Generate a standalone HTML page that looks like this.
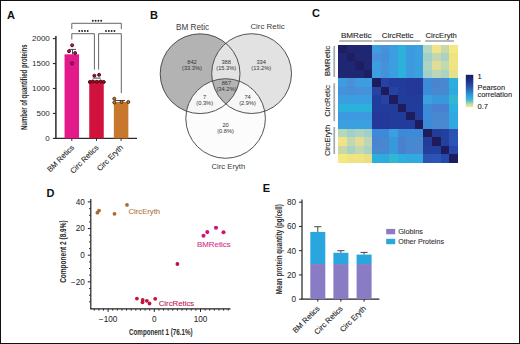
<!DOCTYPE html>
<html><head><meta charset="utf-8"><style>
html,body{margin:0;padding:0;background:#fff;}
body{width:520px;height:344px;overflow:hidden;}
svg{display:block;}
</style></head><body>
<svg width="520" height="344" viewBox="0 0 520 344" font-family='"Liberation Sans", sans-serif'>
<rect x="0" y="0" width="520" height="344" fill="#fff"/>
<line x1="55.9" y1="36" x2="55.9" y2="138.4" stroke="#2a2a2a" stroke-width="1.5"/>
<line x1="55.199999999999996" y1="138.4" x2="137" y2="138.4" stroke="#2a2a2a" stroke-width="1.4"/>
<line x1="52.9" y1="138.4" x2="55.9" y2="138.4" stroke="#2a2a2a" stroke-width="1.1"/>
<text x="49.8" y="140.9" text-anchor="end" font-size="8" fill="#2a2a2a" stroke="none">0</text>
<line x1="52.9" y1="113.45" x2="55.9" y2="113.45" stroke="#2a2a2a" stroke-width="1.1"/>
<text x="49.8" y="115.95" text-anchor="end" font-size="8" fill="#2a2a2a" stroke="none">500</text>
<line x1="52.9" y1="88.5" x2="55.9" y2="88.5" stroke="#2a2a2a" stroke-width="1.1"/>
<text x="49.8" y="91.0" text-anchor="end" font-size="8" fill="#2a2a2a" stroke="none">1000</text>
<line x1="52.9" y1="63.55" x2="55.9" y2="63.55" stroke="#2a2a2a" stroke-width="1.1"/>
<text x="49.8" y="66.05" text-anchor="end" font-size="8" fill="#2a2a2a" stroke="none">1500</text>
<line x1="52.9" y1="38.599999999999994" x2="55.9" y2="38.599999999999994" stroke="#2a2a2a" stroke-width="1.1"/>
<text x="49.8" y="41.099999999999994" text-anchor="end" font-size="8" fill="#2a2a2a" stroke="none">2000</text>
<rect x="64.55" y="54.3" width="14.5" height="84.10000000000001" fill="#e21a8a"/>
<line x1="71.8" y1="138.4" x2="71.8" y2="140.9" stroke="#2a2a2a" stroke-width="1"/>
<rect x="89.25" y="80.4" width="14.5" height="58.0" fill="#d0123c"/>
<line x1="96.5" y1="138.4" x2="96.5" y2="140.9" stroke="#2a2a2a" stroke-width="1"/>
<rect x="113.85" y="102" width="14.5" height="36.400000000000006" fill="#c8782c"/>
<line x1="121.1" y1="138.4" x2="121.1" y2="140.9" stroke="#2a2a2a" stroke-width="1"/>
<line x1="72.5" y1="49.4" x2="72.5" y2="54.3" stroke="#333" stroke-width="0.9"/>
<line x1="69" y1="49.4" x2="76" y2="49.4" stroke="#333" stroke-width="0.9"/>
<circle cx="72.1" cy="45.3" r="1.5" fill="#b81868" stroke="#500828" stroke-width="0.95"/>
<circle cx="69.0" cy="51.2" r="1.5" fill="#b81868" stroke="#500828" stroke-width="0.95"/>
<circle cx="75.1" cy="53.0" r="1.5" fill="#b81868" stroke="#500828" stroke-width="0.95"/>
<circle cx="72.1" cy="63.4" r="1.5" fill="#b81868" stroke="#500828" stroke-width="0.95"/>
<line x1="92.8" y1="78.1" x2="100.7" y2="78.1" stroke="#333" stroke-width="0.9"/>
<circle cx="94.4" cy="75.7" r="1.5" fill="#a0102a" stroke="#480812" stroke-width="0.95"/>
<circle cx="99.1" cy="74.8" r="1.5" fill="#a0102a" stroke="#480812" stroke-width="0.95"/>
<circle cx="89.8" cy="82" r="1.5" fill="#a0102a" stroke="#480812" stroke-width="0.95"/>
<circle cx="92.8" cy="81.5" r="1.5" fill="#a0102a" stroke="#480812" stroke-width="0.95"/>
<circle cx="96.8" cy="81.8" r="1.5" fill="#a0102a" stroke="#480812" stroke-width="0.95"/>
<circle cx="100.7" cy="81.5" r="1.5" fill="#a0102a" stroke="#480812" stroke-width="0.95"/>
<circle cx="103.8" cy="82" r="1.5" fill="#a0102a" stroke="#480812" stroke-width="0.95"/>
<line x1="115.2" y1="100.5" x2="125" y2="100.5" stroke="#333" stroke-width="0.9"/>
<circle cx="114.3" cy="98.7" r="1.5" fill="#c07a38" stroke="#4a2c10" stroke-width="0.95"/>
<circle cx="114.3" cy="102.5" r="1.5" fill="#c07a38" stroke="#4a2c10" stroke-width="0.95"/>
<circle cx="121.6" cy="102" r="1.5" fill="#c07a38" stroke="#4a2c10" stroke-width="0.95"/>
<circle cx="128.3" cy="102" r="1.5" fill="#c07a38" stroke="#4a2c10" stroke-width="0.95"/>
<path d="M71.8 29 V23.3 H121.3 V29" fill="none" stroke="#555" stroke-width="0.9"/>
<path d="M71.8 39.5 V33.7 H94.4 V69.6" fill="none" stroke="#555" stroke-width="0.9"/>
<path d="M98.6 69.6 V33.7 H121.3 V93.1" fill="none" stroke="#555" stroke-width="0.9"/>
<circle cx="92.8" cy="20.8" r="0.95" fill="#222"/>
<circle cx="95.6" cy="20.8" r="0.95" fill="#222"/>
<circle cx="98.39999999999999" cy="20.8" r="0.95" fill="#222"/>
<circle cx="101.19999999999999" cy="20.8" r="0.95" fill="#222"/>
<circle cx="79.3" cy="31.000000000000004" r="0.95" fill="#222"/>
<circle cx="82.1" cy="31.000000000000004" r="0.95" fill="#222"/>
<circle cx="84.89999999999999" cy="31.000000000000004" r="0.95" fill="#222"/>
<circle cx="87.69999999999999" cy="31.000000000000004" r="0.95" fill="#222"/>
<circle cx="106.0" cy="31.000000000000004" r="0.95" fill="#222"/>
<circle cx="108.8" cy="31.000000000000004" r="0.95" fill="#222"/>
<circle cx="111.6" cy="31.000000000000004" r="0.95" fill="#222"/>
<circle cx="114.4" cy="31.000000000000004" r="0.95" fill="#222"/>
<text transform="translate(74.60000000000001,148.0) rotate(-45)" text-anchor="end" font-size="7.6" fill="#2a2a2a" stroke="#2a2a2a" stroke-width="0.1">BM Retics</text>
<text transform="translate(99.10000000000001,148.0) rotate(-45)" text-anchor="end" font-size="7.6" fill="#2a2a2a" stroke="#2a2a2a" stroke-width="0.1">Circ Retics</text>
<text transform="translate(123.5,148.0) rotate(-45)" text-anchor="end" font-size="7.6" fill="#2a2a2a" stroke="#2a2a2a" stroke-width="0.1">Circ Eryth</text>
<text transform="translate(26.6,87.25) rotate(-90)" text-anchor="middle" font-size="9" font-weight="bold" textLength="85.7" lengthAdjust="spacingAndGlyphs" fill="#2a2a2a">Number of quantified proteins</text>
<text x="7" y="18.8" font-size="11" font-weight="bold" fill="#111">A</text>
<defs>
<clipPath id="k1"><circle cx="200.1" cy="73.7" r="39.9" /></clipPath>
<clipPath id="k2"><circle cx="251.6" cy="73.6" r="39.9" /></clipPath>
</defs>
<circle cx="200.1" cy="73.7" r="39.9" fill="#b3b3b3"/>
<circle cx="251.6" cy="73.6" r="39.9" fill="#e2e2e2"/>
<g clip-path="url(#k1)"><circle cx="251.6" cy="73.6" r="39.9" fill="#e3e3e3"/></g>
<circle cx="225.6" cy="118.5" r="39.8" fill="#fcfcfc"/>
<g clip-path="url(#k1)"><circle cx="225.6" cy="118.5" r="39.8" fill="#f7f7f7"/></g>
<g clip-path="url(#k2)"><circle cx="225.6" cy="118.5" r="39.8" fill="#f7f7f7"/></g>
<g clip-path="url(#k1)"><g clip-path="url(#k2)"><circle cx="225.6" cy="118.5" r="39.8" fill="#b4b4b4"/></g></g>
<circle cx="200.1" cy="73.7" r="39.9" fill="none" stroke="#404040" stroke-width="0.9"/>
<circle cx="251.6" cy="73.6" r="39.9" fill="none" stroke="#404040" stroke-width="0.9"/>
<circle cx="225.6" cy="118.5" r="39.8" fill="none" stroke="#404040" stroke-width="0.9"/>
<text x="192" y="63.5" text-anchor="middle" font-size="5.7" fill="#333" stroke="none">842</text>
<text x="192" y="69.8" text-anchor="middle" font-size="5.7" fill="#333" stroke="none">(33.3%)</text>
<text x="226.2" y="63.5" text-anchor="middle" font-size="5.7" fill="#333" stroke="none">388</text>
<text x="226.2" y="69.8" text-anchor="middle" font-size="5.7" fill="#333" stroke="none">(15.3%)</text>
<text x="261.2" y="63.5" text-anchor="middle" font-size="5.7" fill="#333" stroke="none">334</text>
<text x="261.2" y="69.8" text-anchor="middle" font-size="5.7" fill="#333" stroke="none">(13.2%)</text>
<text x="226.4" y="85" text-anchor="middle" font-size="5.7" fill="#333" stroke="none">867</text>
<text x="226.4" y="91.3" text-anchor="middle" font-size="5.7" fill="#333" stroke="none">(34.2%)</text>
<text x="204.7" y="98.9" text-anchor="middle" font-size="5.7" fill="#333" stroke="none">7</text>
<text x="204.7" y="105.2" text-anchor="middle" font-size="5.7" fill="#333" stroke="none">(0.3%)</text>
<text x="247.6" y="98.9" text-anchor="middle" font-size="5.7" fill="#333" stroke="none">74</text>
<text x="247.6" y="105.2" text-anchor="middle" font-size="5.7" fill="#333" stroke="none">(2.9%)</text>
<text x="225.6" y="126.6" text-anchor="middle" font-size="5.7" fill="#333" stroke="none">20</text>
<text x="225.6" y="132.9" text-anchor="middle" font-size="5.7" fill="#333" stroke="none">(0.8%)</text>
<text x="192.6" y="30" text-anchor="middle" font-size="8.2" fill="#3a3a3a" stroke="none">BM Retic</text>
<text x="267.5" y="29.4" text-anchor="middle" font-size="7.9" fill="#3a3a3a" stroke="none">Circ Retic</text>
<text x="228.4" y="169" text-anchor="middle" font-size="7.7" fill="#3a3a3a" stroke="none">Circ Eryth</text>
<text x="150" y="18.8" font-size="11" font-weight="bold" fill="#111">B</text>
<rect x="338.00" y="44.60" width="9.04" height="8.91" fill="#1e1e62" shape-rendering="crispEdges"/>
<rect x="346.54" y="44.60" width="9.04" height="8.91" fill="#1f2672" shape-rendering="crispEdges"/>
<rect x="355.09" y="44.60" width="9.04" height="8.91" fill="#1f2672" shape-rendering="crispEdges"/>
<rect x="363.63" y="44.60" width="9.04" height="8.91" fill="#1f2672" shape-rendering="crispEdges"/>
<rect x="372.17" y="44.60" width="9.04" height="8.91" fill="#3e9ce0" shape-rendering="crispEdges"/>
<rect x="380.71" y="44.60" width="9.04" height="8.91" fill="#4292dc" shape-rendering="crispEdges"/>
<rect x="389.26" y="44.60" width="9.04" height="8.91" fill="#3a9ee0" shape-rendering="crispEdges"/>
<rect x="397.80" y="44.60" width="9.04" height="8.91" fill="#2cb2da" shape-rendering="crispEdges"/>
<rect x="406.34" y="44.60" width="9.04" height="8.91" fill="#3e9ae0" shape-rendering="crispEdges"/>
<rect x="414.89" y="44.60" width="9.04" height="8.91" fill="#3aa0e0" shape-rendering="crispEdges"/>
<rect x="423.43" y="44.60" width="9.04" height="8.91" fill="#b4d8bc" shape-rendering="crispEdges"/>
<rect x="431.97" y="44.60" width="9.04" height="8.91" fill="#f0e48a" shape-rendering="crispEdges"/>
<rect x="440.51" y="44.60" width="9.04" height="8.91" fill="#cad8a8" shape-rendering="crispEdges"/>
<rect x="449.06" y="44.60" width="9.04" height="8.91" fill="#f4e880" shape-rendering="crispEdges"/>
<rect x="338.00" y="53.01" width="9.04" height="8.91" fill="#1f2672" shape-rendering="crispEdges"/>
<rect x="346.54" y="53.01" width="9.04" height="8.91" fill="#1e1f62" shape-rendering="crispEdges"/>
<rect x="355.09" y="53.01" width="9.04" height="8.91" fill="#1f2672" shape-rendering="crispEdges"/>
<rect x="363.63" y="53.01" width="9.04" height="8.91" fill="#1f2672" shape-rendering="crispEdges"/>
<rect x="372.17" y="53.01" width="9.04" height="8.91" fill="#4890d8" shape-rendering="crispEdges"/>
<rect x="380.71" y="53.01" width="9.04" height="8.91" fill="#468ed8" shape-rendering="crispEdges"/>
<rect x="389.26" y="53.01" width="9.04" height="8.91" fill="#3a9ee0" shape-rendering="crispEdges"/>
<rect x="397.80" y="53.01" width="9.04" height="8.91" fill="#2cb2da" shape-rendering="crispEdges"/>
<rect x="406.34" y="53.01" width="9.04" height="8.91" fill="#3e9ae0" shape-rendering="crispEdges"/>
<rect x="414.89" y="53.01" width="9.04" height="8.91" fill="#3aa0e0" shape-rendering="crispEdges"/>
<rect x="423.43" y="53.01" width="9.04" height="8.91" fill="#a2d0c8" shape-rendering="crispEdges"/>
<rect x="431.97" y="53.01" width="9.04" height="8.91" fill="#c2d8b0" shape-rendering="crispEdges"/>
<rect x="440.51" y="53.01" width="9.04" height="8.91" fill="#aad4c0" shape-rendering="crispEdges"/>
<rect x="449.06" y="53.01" width="9.04" height="8.91" fill="#f0e480" shape-rendering="crispEdges"/>
<rect x="338.00" y="61.43" width="9.04" height="8.91" fill="#1f2672" shape-rendering="crispEdges"/>
<rect x="346.54" y="61.43" width="9.04" height="8.91" fill="#1f2672" shape-rendering="crispEdges"/>
<rect x="355.09" y="61.43" width="9.04" height="8.91" fill="#1e1f62" shape-rendering="crispEdges"/>
<rect x="363.63" y="61.43" width="9.04" height="8.91" fill="#1f2672" shape-rendering="crispEdges"/>
<rect x="372.17" y="61.43" width="9.04" height="8.91" fill="#3e9ce0" shape-rendering="crispEdges"/>
<rect x="380.71" y="61.43" width="9.04" height="8.91" fill="#4890d8" shape-rendering="crispEdges"/>
<rect x="389.26" y="61.43" width="9.04" height="8.91" fill="#3a9ee0" shape-rendering="crispEdges"/>
<rect x="397.80" y="61.43" width="9.04" height="8.91" fill="#2cb2da" shape-rendering="crispEdges"/>
<rect x="406.34" y="61.43" width="9.04" height="8.91" fill="#3e9ae0" shape-rendering="crispEdges"/>
<rect x="414.89" y="61.43" width="9.04" height="8.91" fill="#3aa0e0" shape-rendering="crispEdges"/>
<rect x="423.43" y="61.43" width="9.04" height="8.91" fill="#acd4c0" shape-rendering="crispEdges"/>
<rect x="431.97" y="61.43" width="9.04" height="8.91" fill="#e2dc98" shape-rendering="crispEdges"/>
<rect x="440.51" y="61.43" width="9.04" height="8.91" fill="#c2d8b0" shape-rendering="crispEdges"/>
<rect x="449.06" y="61.43" width="9.04" height="8.91" fill="#f0e480" shape-rendering="crispEdges"/>
<rect x="338.00" y="69.84" width="9.04" height="8.91" fill="#1f2672" shape-rendering="crispEdges"/>
<rect x="346.54" y="69.84" width="9.04" height="8.91" fill="#1f2672" shape-rendering="crispEdges"/>
<rect x="355.09" y="69.84" width="9.04" height="8.91" fill="#1f2672" shape-rendering="crispEdges"/>
<rect x="363.63" y="69.84" width="9.04" height="8.91" fill="#1e1f62" shape-rendering="crispEdges"/>
<rect x="372.17" y="69.84" width="9.04" height="8.91" fill="#3e9ce0" shape-rendering="crispEdges"/>
<rect x="380.71" y="69.84" width="9.04" height="8.91" fill="#4292dc" shape-rendering="crispEdges"/>
<rect x="389.26" y="69.84" width="9.04" height="8.91" fill="#3a9ee0" shape-rendering="crispEdges"/>
<rect x="397.80" y="69.84" width="9.04" height="8.91" fill="#2cb2da" shape-rendering="crispEdges"/>
<rect x="406.34" y="69.84" width="9.04" height="8.91" fill="#3e9ae0" shape-rendering="crispEdges"/>
<rect x="414.89" y="69.84" width="9.04" height="8.91" fill="#3aa0e0" shape-rendering="crispEdges"/>
<rect x="423.43" y="69.84" width="9.04" height="8.91" fill="#a2d0c8" shape-rendering="crispEdges"/>
<rect x="431.97" y="69.84" width="9.04" height="8.91" fill="#bad8b8" shape-rendering="crispEdges"/>
<rect x="440.51" y="69.84" width="9.04" height="8.91" fill="#aad4c0" shape-rendering="crispEdges"/>
<rect x="449.06" y="69.84" width="9.04" height="8.91" fill="#e8e088" shape-rendering="crispEdges"/>
<rect x="338.00" y="78.26" width="9.04" height="8.91" fill="#3e9ce0" shape-rendering="crispEdges"/>
<rect x="346.54" y="78.26" width="9.04" height="8.91" fill="#4890d8" shape-rendering="crispEdges"/>
<rect x="355.09" y="78.26" width="9.04" height="8.91" fill="#3e9ce0" shape-rendering="crispEdges"/>
<rect x="363.63" y="78.26" width="9.04" height="8.91" fill="#3e9ce0" shape-rendering="crispEdges"/>
<rect x="372.17" y="78.26" width="9.04" height="8.91" fill="#1f1c5e" shape-rendering="crispEdges"/>
<rect x="380.71" y="78.26" width="9.04" height="8.91" fill="#2542a4" shape-rendering="crispEdges"/>
<rect x="389.26" y="78.26" width="9.04" height="8.91" fill="#223c9c" shape-rendering="crispEdges"/>
<rect x="397.80" y="78.26" width="9.04" height="8.91" fill="#223c9c" shape-rendering="crispEdges"/>
<rect x="406.34" y="78.26" width="9.04" height="8.91" fill="#24389a" shape-rendering="crispEdges"/>
<rect x="414.89" y="78.26" width="9.04" height="8.91" fill="#24389a" shape-rendering="crispEdges"/>
<rect x="423.43" y="78.26" width="9.04" height="8.91" fill="#3c8ad8" shape-rendering="crispEdges"/>
<rect x="431.97" y="78.26" width="9.04" height="8.91" fill="#4a84d0" shape-rendering="crispEdges"/>
<rect x="440.51" y="78.26" width="9.04" height="8.91" fill="#4888d0" shape-rendering="crispEdges"/>
<rect x="449.06" y="78.26" width="9.04" height="8.91" fill="#2ab0e0" shape-rendering="crispEdges"/>
<rect x="338.00" y="86.67" width="9.04" height="8.91" fill="#4292dc" shape-rendering="crispEdges"/>
<rect x="346.54" y="86.67" width="9.04" height="8.91" fill="#468ed8" shape-rendering="crispEdges"/>
<rect x="355.09" y="86.67" width="9.04" height="8.91" fill="#4890d8" shape-rendering="crispEdges"/>
<rect x="363.63" y="86.67" width="9.04" height="8.91" fill="#4292dc" shape-rendering="crispEdges"/>
<rect x="372.17" y="86.67" width="9.04" height="8.91" fill="#2542a4" shape-rendering="crispEdges"/>
<rect x="380.71" y="86.67" width="9.04" height="8.91" fill="#1f1c5e" shape-rendering="crispEdges"/>
<rect x="389.26" y="86.67" width="9.04" height="8.91" fill="#2542a4" shape-rendering="crispEdges"/>
<rect x="397.80" y="86.67" width="9.04" height="8.91" fill="#223c9c" shape-rendering="crispEdges"/>
<rect x="406.34" y="86.67" width="9.04" height="8.91" fill="#24389a" shape-rendering="crispEdges"/>
<rect x="414.89" y="86.67" width="9.04" height="8.91" fill="#24389a" shape-rendering="crispEdges"/>
<rect x="423.43" y="86.67" width="9.04" height="8.91" fill="#3c8ad8" shape-rendering="crispEdges"/>
<rect x="431.97" y="86.67" width="9.04" height="8.91" fill="#4888d0" shape-rendering="crispEdges"/>
<rect x="440.51" y="86.67" width="9.04" height="8.91" fill="#4888d0" shape-rendering="crispEdges"/>
<rect x="449.06" y="86.67" width="9.04" height="8.91" fill="#30a8e0" shape-rendering="crispEdges"/>
<rect x="338.00" y="95.09" width="9.04" height="8.91" fill="#3a9ee0" shape-rendering="crispEdges"/>
<rect x="346.54" y="95.09" width="9.04" height="8.91" fill="#3a9ee0" shape-rendering="crispEdges"/>
<rect x="355.09" y="95.09" width="9.04" height="8.91" fill="#3a9ee0" shape-rendering="crispEdges"/>
<rect x="363.63" y="95.09" width="9.04" height="8.91" fill="#3a9ee0" shape-rendering="crispEdges"/>
<rect x="372.17" y="95.09" width="9.04" height="8.91" fill="#223c9c" shape-rendering="crispEdges"/>
<rect x="380.71" y="95.09" width="9.04" height="8.91" fill="#2542a4" shape-rendering="crispEdges"/>
<rect x="389.26" y="95.09" width="9.04" height="8.91" fill="#1f1c5e" shape-rendering="crispEdges"/>
<rect x="397.80" y="95.09" width="9.04" height="8.91" fill="#223c9c" shape-rendering="crispEdges"/>
<rect x="406.34" y="95.09" width="9.04" height="8.91" fill="#223c9c" shape-rendering="crispEdges"/>
<rect x="414.89" y="95.09" width="9.04" height="8.91" fill="#223c9c" shape-rendering="crispEdges"/>
<rect x="423.43" y="95.09" width="9.04" height="8.91" fill="#3aa0e0" shape-rendering="crispEdges"/>
<rect x="431.97" y="95.09" width="9.04" height="8.91" fill="#3898dc" shape-rendering="crispEdges"/>
<rect x="440.51" y="95.09" width="9.04" height="8.91" fill="#3898dc" shape-rendering="crispEdges"/>
<rect x="449.06" y="95.09" width="9.04" height="8.91" fill="#30b8d0" shape-rendering="crispEdges"/>
<rect x="338.00" y="103.50" width="9.04" height="8.91" fill="#2cb2da" shape-rendering="crispEdges"/>
<rect x="346.54" y="103.50" width="9.04" height="8.91" fill="#2cb2da" shape-rendering="crispEdges"/>
<rect x="355.09" y="103.50" width="9.04" height="8.91" fill="#2cb2da" shape-rendering="crispEdges"/>
<rect x="363.63" y="103.50" width="9.04" height="8.91" fill="#2cb2da" shape-rendering="crispEdges"/>
<rect x="372.17" y="103.50" width="9.04" height="8.91" fill="#223c9c" shape-rendering="crispEdges"/>
<rect x="380.71" y="103.50" width="9.04" height="8.91" fill="#223c9c" shape-rendering="crispEdges"/>
<rect x="389.26" y="103.50" width="9.04" height="8.91" fill="#223c9c" shape-rendering="crispEdges"/>
<rect x="397.80" y="103.50" width="9.04" height="8.91" fill="#1f1c5e" shape-rendering="crispEdges"/>
<rect x="406.34" y="103.50" width="9.04" height="8.91" fill="#223c9c" shape-rendering="crispEdges"/>
<rect x="414.89" y="103.50" width="9.04" height="8.91" fill="#223c9c" shape-rendering="crispEdges"/>
<rect x="423.43" y="103.50" width="9.04" height="8.91" fill="#3c8ad8" shape-rendering="crispEdges"/>
<rect x="431.97" y="103.50" width="9.04" height="8.91" fill="#4a80d0" shape-rendering="crispEdges"/>
<rect x="440.51" y="103.50" width="9.04" height="8.91" fill="#4a80d0" shape-rendering="crispEdges"/>
<rect x="449.06" y="103.50" width="9.04" height="8.91" fill="#2ab0e0" shape-rendering="crispEdges"/>
<rect x="338.00" y="111.91" width="9.04" height="8.91" fill="#3e9ae0" shape-rendering="crispEdges"/>
<rect x="346.54" y="111.91" width="9.04" height="8.91" fill="#3e9ae0" shape-rendering="crispEdges"/>
<rect x="355.09" y="111.91" width="9.04" height="8.91" fill="#3e9ae0" shape-rendering="crispEdges"/>
<rect x="363.63" y="111.91" width="9.04" height="8.91" fill="#3e9ae0" shape-rendering="crispEdges"/>
<rect x="372.17" y="111.91" width="9.04" height="8.91" fill="#24389a" shape-rendering="crispEdges"/>
<rect x="380.71" y="111.91" width="9.04" height="8.91" fill="#24389a" shape-rendering="crispEdges"/>
<rect x="389.26" y="111.91" width="9.04" height="8.91" fill="#223c9c" shape-rendering="crispEdges"/>
<rect x="397.80" y="111.91" width="9.04" height="8.91" fill="#223c9c" shape-rendering="crispEdges"/>
<rect x="406.34" y="111.91" width="9.04" height="8.91" fill="#1f1c5e" shape-rendering="crispEdges"/>
<rect x="414.89" y="111.91" width="9.04" height="8.91" fill="#223c9c" shape-rendering="crispEdges"/>
<rect x="423.43" y="111.91" width="9.04" height="8.91" fill="#3c8ad8" shape-rendering="crispEdges"/>
<rect x="431.97" y="111.91" width="9.04" height="8.91" fill="#4888d0" shape-rendering="crispEdges"/>
<rect x="440.51" y="111.91" width="9.04" height="8.91" fill="#4888d0" shape-rendering="crispEdges"/>
<rect x="449.06" y="111.91" width="9.04" height="8.91" fill="#30a8e0" shape-rendering="crispEdges"/>
<rect x="338.00" y="120.33" width="9.04" height="8.91" fill="#3aa0e0" shape-rendering="crispEdges"/>
<rect x="346.54" y="120.33" width="9.04" height="8.91" fill="#3aa0e0" shape-rendering="crispEdges"/>
<rect x="355.09" y="120.33" width="9.04" height="8.91" fill="#3aa0e0" shape-rendering="crispEdges"/>
<rect x="363.63" y="120.33" width="9.04" height="8.91" fill="#3aa0e0" shape-rendering="crispEdges"/>
<rect x="372.17" y="120.33" width="9.04" height="8.91" fill="#24389a" shape-rendering="crispEdges"/>
<rect x="380.71" y="120.33" width="9.04" height="8.91" fill="#24389a" shape-rendering="crispEdges"/>
<rect x="389.26" y="120.33" width="9.04" height="8.91" fill="#223c9c" shape-rendering="crispEdges"/>
<rect x="397.80" y="120.33" width="9.04" height="8.91" fill="#223c9c" shape-rendering="crispEdges"/>
<rect x="406.34" y="120.33" width="9.04" height="8.91" fill="#223c9c" shape-rendering="crispEdges"/>
<rect x="414.89" y="120.33" width="9.04" height="8.91" fill="#1f1c5e" shape-rendering="crispEdges"/>
<rect x="423.43" y="120.33" width="9.04" height="8.91" fill="#3c8ad8" shape-rendering="crispEdges"/>
<rect x="431.97" y="120.33" width="9.04" height="8.91" fill="#4a88d0" shape-rendering="crispEdges"/>
<rect x="440.51" y="120.33" width="9.04" height="8.91" fill="#4a88d0" shape-rendering="crispEdges"/>
<rect x="449.06" y="120.33" width="9.04" height="8.91" fill="#30a8e0" shape-rendering="crispEdges"/>
<rect x="338.00" y="128.74" width="9.04" height="8.91" fill="#b4d8bc" shape-rendering="crispEdges"/>
<rect x="346.54" y="128.74" width="9.04" height="8.91" fill="#a2d0c8" shape-rendering="crispEdges"/>
<rect x="355.09" y="128.74" width="9.04" height="8.91" fill="#acd4c0" shape-rendering="crispEdges"/>
<rect x="363.63" y="128.74" width="9.04" height="8.91" fill="#a2d0c8" shape-rendering="crispEdges"/>
<rect x="372.17" y="128.74" width="9.04" height="8.91" fill="#3c8ad8" shape-rendering="crispEdges"/>
<rect x="380.71" y="128.74" width="9.04" height="8.91" fill="#3c8ad8" shape-rendering="crispEdges"/>
<rect x="389.26" y="128.74" width="9.04" height="8.91" fill="#3aa0e0" shape-rendering="crispEdges"/>
<rect x="397.80" y="128.74" width="9.04" height="8.91" fill="#3c8ad8" shape-rendering="crispEdges"/>
<rect x="406.34" y="128.74" width="9.04" height="8.91" fill="#3c8ad8" shape-rendering="crispEdges"/>
<rect x="414.89" y="128.74" width="9.04" height="8.91" fill="#3c8ad8" shape-rendering="crispEdges"/>
<rect x="423.43" y="128.74" width="9.04" height="8.91" fill="#1f1c5e" shape-rendering="crispEdges"/>
<rect x="431.97" y="128.74" width="9.04" height="8.91" fill="#233c9a" shape-rendering="crispEdges"/>
<rect x="440.51" y="128.74" width="9.04" height="8.91" fill="#22409e" shape-rendering="crispEdges"/>
<rect x="449.06" y="128.74" width="9.04" height="8.91" fill="#2c52b4" shape-rendering="crispEdges"/>
<rect x="338.00" y="137.16" width="9.04" height="8.91" fill="#f0e48a" shape-rendering="crispEdges"/>
<rect x="346.54" y="137.16" width="9.04" height="8.91" fill="#c2d8b0" shape-rendering="crispEdges"/>
<rect x="355.09" y="137.16" width="9.04" height="8.91" fill="#e2dc98" shape-rendering="crispEdges"/>
<rect x="363.63" y="137.16" width="9.04" height="8.91" fill="#bad8b8" shape-rendering="crispEdges"/>
<rect x="372.17" y="137.16" width="9.04" height="8.91" fill="#4a84d0" shape-rendering="crispEdges"/>
<rect x="380.71" y="137.16" width="9.04" height="8.91" fill="#4888d0" shape-rendering="crispEdges"/>
<rect x="389.26" y="137.16" width="9.04" height="8.91" fill="#3898dc" shape-rendering="crispEdges"/>
<rect x="397.80" y="137.16" width="9.04" height="8.91" fill="#4a80d0" shape-rendering="crispEdges"/>
<rect x="406.34" y="137.16" width="9.04" height="8.91" fill="#4888d0" shape-rendering="crispEdges"/>
<rect x="414.89" y="137.16" width="9.04" height="8.91" fill="#4a88d0" shape-rendering="crispEdges"/>
<rect x="423.43" y="137.16" width="9.04" height="8.91" fill="#233c9a" shape-rendering="crispEdges"/>
<rect x="431.97" y="137.16" width="9.04" height="8.91" fill="#1f1c5e" shape-rendering="crispEdges"/>
<rect x="440.51" y="137.16" width="9.04" height="8.91" fill="#22409e" shape-rendering="crispEdges"/>
<rect x="449.06" y="137.16" width="9.04" height="8.91" fill="#2c54b6" shape-rendering="crispEdges"/>
<rect x="338.00" y="145.57" width="9.04" height="8.91" fill="#cad8a8" shape-rendering="crispEdges"/>
<rect x="346.54" y="145.57" width="9.04" height="8.91" fill="#aad4c0" shape-rendering="crispEdges"/>
<rect x="355.09" y="145.57" width="9.04" height="8.91" fill="#c2d8b0" shape-rendering="crispEdges"/>
<rect x="363.63" y="145.57" width="9.04" height="8.91" fill="#aad4c0" shape-rendering="crispEdges"/>
<rect x="372.17" y="145.57" width="9.04" height="8.91" fill="#4888d0" shape-rendering="crispEdges"/>
<rect x="380.71" y="145.57" width="9.04" height="8.91" fill="#4888d0" shape-rendering="crispEdges"/>
<rect x="389.26" y="145.57" width="9.04" height="8.91" fill="#3898dc" shape-rendering="crispEdges"/>
<rect x="397.80" y="145.57" width="9.04" height="8.91" fill="#4a80d0" shape-rendering="crispEdges"/>
<rect x="406.34" y="145.57" width="9.04" height="8.91" fill="#4888d0" shape-rendering="crispEdges"/>
<rect x="414.89" y="145.57" width="9.04" height="8.91" fill="#4a88d0" shape-rendering="crispEdges"/>
<rect x="423.43" y="145.57" width="9.04" height="8.91" fill="#22409e" shape-rendering="crispEdges"/>
<rect x="431.97" y="145.57" width="9.04" height="8.91" fill="#22409e" shape-rendering="crispEdges"/>
<rect x="440.51" y="145.57" width="9.04" height="8.91" fill="#1f1c5e" shape-rendering="crispEdges"/>
<rect x="449.06" y="145.57" width="9.04" height="8.91" fill="#2648aa" shape-rendering="crispEdges"/>
<rect x="338.00" y="153.99" width="9.04" height="8.91" fill="#f4e880" shape-rendering="crispEdges"/>
<rect x="346.54" y="153.99" width="9.04" height="8.91" fill="#f0e480" shape-rendering="crispEdges"/>
<rect x="355.09" y="153.99" width="9.04" height="8.91" fill="#f0e480" shape-rendering="crispEdges"/>
<rect x="363.63" y="153.99" width="9.04" height="8.91" fill="#e8e088" shape-rendering="crispEdges"/>
<rect x="372.17" y="153.99" width="9.04" height="8.91" fill="#2ab0e0" shape-rendering="crispEdges"/>
<rect x="380.71" y="153.99" width="9.04" height="8.91" fill="#30a8e0" shape-rendering="crispEdges"/>
<rect x="389.26" y="153.99" width="9.04" height="8.91" fill="#30b8d0" shape-rendering="crispEdges"/>
<rect x="397.80" y="153.99" width="9.04" height="8.91" fill="#2ab0e0" shape-rendering="crispEdges"/>
<rect x="406.34" y="153.99" width="9.04" height="8.91" fill="#30a8e0" shape-rendering="crispEdges"/>
<rect x="414.89" y="153.99" width="9.04" height="8.91" fill="#30a8e0" shape-rendering="crispEdges"/>
<rect x="423.43" y="153.99" width="9.04" height="8.91" fill="#2c52b4" shape-rendering="crispEdges"/>
<rect x="431.97" y="153.99" width="9.04" height="8.91" fill="#2c54b6" shape-rendering="crispEdges"/>
<rect x="440.51" y="153.99" width="9.04" height="8.91" fill="#2648aa" shape-rendering="crispEdges"/>
<rect x="449.06" y="153.99" width="9.04" height="8.91" fill="#1f1c5e" shape-rendering="crispEdges"/>
<rect x="339.3" y="40.2" width="33" height="1.6" fill="#a8a8a8"/>
<rect x="373.5" y="40.2" width="47" height="1.6" fill="#a8a8a8"/>
<rect x="425.2" y="40.2" width="28.8" height="1.6" fill="#a8a8a8"/>
<text x="356.2" y="38" text-anchor="middle" font-size="8.1" fill="#262626" stroke="#262626" stroke-width="0.12">BMRetic</text>
<text x="397.6" y="38" text-anchor="middle" font-size="7.8" fill="#262626" stroke="#262626" stroke-width="0.12">CircRetic</text>
<text x="441.2" y="38" text-anchor="middle" font-size="7.6" fill="#262626" stroke="#262626" stroke-width="0.12">CircEryth</text>
<rect x="333.4" y="46" width="1.7" height="31" fill="#a8a8a8"/>
<rect x="333.4" y="83.3" width="1.7" height="38" fill="#a8a8a8"/>
<rect x="333.4" y="127" width="1.7" height="27" fill="#a8a8a8"/>
<text transform="translate(330.4,61) rotate(-90)" text-anchor="middle" font-size="8.1" fill="#262626" stroke="#262626" stroke-width="0.12">BMRetic</text>
<text transform="translate(330.4,101) rotate(-90)" text-anchor="middle" font-size="7.8" fill="#262626" stroke="#262626" stroke-width="0.12">CircRetic</text>
<text transform="translate(330.4,140.5) rotate(-90)" text-anchor="middle" font-size="7.6" fill="#262626" stroke="#262626" stroke-width="0.12">CircEryth</text>
<defs><linearGradient id="cb" x1="0" y1="0" x2="0" y2="1">
<stop offset="0" stop-color="#1c1c5c"/>
<stop offset="0.15" stop-color="#1e2a7c"/>
<stop offset="0.4" stop-color="#2a58b0"/>
<stop offset="0.62" stop-color="#3098d8"/>
<stop offset="0.78" stop-color="#40b8d8"/>
<stop offset="0.92" stop-color="#c8e0a0"/>
<stop offset="1" stop-color="#f0ec88"/>
</linearGradient></defs>
<rect x="465.8" y="74.8" width="7.5" height="32.3" fill="url(#cb)"/>
<text x="477.5" y="78.8" font-size="7.6" fill="#222" stroke="#222" stroke-width="0.1">1</text>
<text x="477.5" y="89.7" font-size="7.4" fill="#222" stroke="#222" stroke-width="0.1">Pearson</text>
<text x="477.5" y="97.3" font-size="7.4" fill="#222" stroke="#222" stroke-width="0.1">correlation</text>
<text x="477.5" y="109" font-size="7.6" fill="#222" stroke="#222" stroke-width="0.1">0.7</text>
<text x="312" y="17" font-size="11" font-weight="bold" fill="#111">C</text>
<line x1="90.8" y1="199" x2="90.8" y2="308.9" stroke="#222" stroke-width="1.2"/>
<line x1="90.2" y1="308.9" x2="230.5" y2="308.9" stroke="#222" stroke-width="1.2"/>
<line x1="89.0" y1="301.82" x2="90.8" y2="301.82" stroke="#222" stroke-width="0.9"/>
<line x1="89.0" y1="295.15999999999997" x2="90.8" y2="295.15999999999997" stroke="#222" stroke-width="0.9"/>
<line x1="89.0" y1="288.5" x2="90.8" y2="288.5" stroke="#222" stroke-width="0.9"/>
<line x1="87.8" y1="281.84" x2="90.8" y2="281.84" stroke="#222" stroke-width="1"/>
<text x="84.8" y="284.73999999999995" text-anchor="end" font-size="8.2" fill="#222" stroke="none">−20</text>
<line x1="89.0" y1="275.18" x2="90.8" y2="275.18" stroke="#222" stroke-width="0.9"/>
<line x1="89.0" y1="268.52" x2="90.8" y2="268.52" stroke="#222" stroke-width="0.9"/>
<line x1="89.0" y1="261.86" x2="90.8" y2="261.86" stroke="#222" stroke-width="0.9"/>
<line x1="87.8" y1="255.2" x2="90.8" y2="255.2" stroke="#222" stroke-width="1"/>
<text x="84.8" y="258.09999999999997" text-anchor="end" font-size="8.2" fill="#222" stroke="none">0</text>
<line x1="89.0" y1="248.54" x2="90.8" y2="248.54" stroke="#222" stroke-width="0.9"/>
<line x1="89.0" y1="241.88" x2="90.8" y2="241.88" stroke="#222" stroke-width="0.9"/>
<line x1="89.0" y1="235.22" x2="90.8" y2="235.22" stroke="#222" stroke-width="0.9"/>
<line x1="87.8" y1="228.56" x2="90.8" y2="228.56" stroke="#222" stroke-width="1"/>
<text x="84.8" y="231.46" text-anchor="end" font-size="8.2" fill="#222" stroke="none">20</text>
<line x1="89.0" y1="221.89999999999998" x2="90.8" y2="221.89999999999998" stroke="#222" stroke-width="0.9"/>
<line x1="89.0" y1="215.23999999999998" x2="90.8" y2="215.23999999999998" stroke="#222" stroke-width="0.9"/>
<line x1="89.0" y1="208.57999999999998" x2="90.8" y2="208.57999999999998" stroke="#222" stroke-width="0.9"/>
<line x1="87.8" y1="201.92" x2="90.8" y2="201.92" stroke="#222" stroke-width="1"/>
<text x="84.8" y="204.82" text-anchor="end" font-size="8.2" fill="#222" stroke="none">40</text>
<line x1="94.24000000000001" y1="308.9" x2="94.24000000000001" y2="310.7" stroke="#222" stroke-width="0.9"/>
<line x1="98.86000000000001" y1="308.9" x2="98.86000000000001" y2="310.7" stroke="#222" stroke-width="0.9"/>
<line x1="103.48000000000002" y1="308.9" x2="103.48000000000002" y2="310.7" stroke="#222" stroke-width="0.9"/>
<line x1="108.10000000000001" y1="308.9" x2="108.10000000000001" y2="311.9" stroke="#222" stroke-width="1"/>
<text x="108.10000000000001" y="321.9" text-anchor="middle" font-size="8.2" fill="#222" stroke="none">−100</text>
<line x1="112.72" y1="308.9" x2="112.72" y2="310.7" stroke="#222" stroke-width="0.9"/>
<line x1="117.34" y1="308.9" x2="117.34" y2="310.7" stroke="#222" stroke-width="0.9"/>
<line x1="121.96000000000001" y1="308.9" x2="121.96000000000001" y2="310.7" stroke="#222" stroke-width="0.9"/>
<line x1="126.58000000000001" y1="308.9" x2="126.58000000000001" y2="310.7" stroke="#222" stroke-width="0.9"/>
<line x1="131.20000000000002" y1="308.9" x2="131.20000000000002" y2="310.7" stroke="#222" stroke-width="0.9"/>
<line x1="135.82000000000002" y1="308.9" x2="135.82000000000002" y2="310.7" stroke="#222" stroke-width="0.9"/>
<line x1="140.44" y1="308.9" x2="140.44" y2="310.7" stroke="#222" stroke-width="0.9"/>
<line x1="145.06" y1="308.9" x2="145.06" y2="310.7" stroke="#222" stroke-width="0.9"/>
<line x1="149.68" y1="308.9" x2="149.68" y2="310.7" stroke="#222" stroke-width="0.9"/>
<line x1="154.3" y1="308.9" x2="154.3" y2="311.9" stroke="#222" stroke-width="1"/>
<text x="154.3" y="321.9" text-anchor="middle" font-size="8.2" fill="#222" stroke="none">0</text>
<line x1="158.92000000000002" y1="308.9" x2="158.92000000000002" y2="310.7" stroke="#222" stroke-width="0.9"/>
<line x1="163.54000000000002" y1="308.9" x2="163.54000000000002" y2="310.7" stroke="#222" stroke-width="0.9"/>
<line x1="168.16000000000003" y1="308.9" x2="168.16000000000003" y2="310.7" stroke="#222" stroke-width="0.9"/>
<line x1="172.78" y1="308.9" x2="172.78" y2="310.7" stroke="#222" stroke-width="0.9"/>
<line x1="177.4" y1="308.9" x2="177.4" y2="310.7" stroke="#222" stroke-width="0.9"/>
<line x1="182.02" y1="308.9" x2="182.02" y2="310.7" stroke="#222" stroke-width="0.9"/>
<line x1="186.64000000000001" y1="308.9" x2="186.64000000000001" y2="310.7" stroke="#222" stroke-width="0.9"/>
<line x1="191.26000000000002" y1="308.9" x2="191.26000000000002" y2="310.7" stroke="#222" stroke-width="0.9"/>
<line x1="195.88000000000002" y1="308.9" x2="195.88000000000002" y2="310.7" stroke="#222" stroke-width="0.9"/>
<line x1="200.5" y1="308.9" x2="200.5" y2="311.9" stroke="#222" stroke-width="1"/>
<text x="200.5" y="321.9" text-anchor="middle" font-size="8.2" fill="#222" stroke="none">100</text>
<line x1="205.12" y1="308.9" x2="205.12" y2="310.7" stroke="#222" stroke-width="0.9"/>
<line x1="209.74" y1="308.9" x2="209.74" y2="310.7" stroke="#222" stroke-width="0.9"/>
<line x1="214.36" y1="308.9" x2="214.36" y2="310.7" stroke="#222" stroke-width="0.9"/>
<line x1="218.98000000000002" y1="308.9" x2="218.98000000000002" y2="310.7" stroke="#222" stroke-width="0.9"/>
<line x1="223.60000000000002" y1="308.9" x2="223.60000000000002" y2="310.7" stroke="#222" stroke-width="0.9"/>
<line x1="228.22000000000003" y1="308.9" x2="228.22000000000003" y2="310.7" stroke="#222" stroke-width="0.9"/>
<circle cx="97.4" cy="212.7" r="1.9" fill="#a86a30"/>
<circle cx="99" cy="210.6" r="1.9" fill="#a86a30"/>
<circle cx="114.5" cy="213.8" r="1.9" fill="#a86a30"/>
<circle cx="127.0" cy="204.9" r="1.9" fill="#a86a30"/>
<circle cx="203.5" cy="235.7" r="2.05" fill="#c81874"/>
<circle cx="207.3" cy="232.1" r="2.05" fill="#c81874"/>
<circle cx="216" cy="227.7" r="2.05" fill="#c81874"/>
<circle cx="223.5" cy="232.2" r="2.05" fill="#c81874"/>
<circle cx="136.9" cy="298.6" r="1.9" fill="#c0143c"/>
<circle cx="142.7" cy="300" r="1.9" fill="#c0143c"/>
<circle cx="142.5" cy="302.3" r="1.9" fill="#c0143c"/>
<circle cx="146.8" cy="300.8" r="1.9" fill="#c0143c"/>
<circle cx="149.5" cy="303.5" r="1.9" fill="#c0143c"/>
<circle cx="155.2" cy="298.8" r="1.9" fill="#c0143c"/>
<circle cx="177.4" cy="264" r="1.9" fill="#c0143c"/>
<text x="128.5" y="214.2" font-size="7.7" fill="#b07840" stroke="#b07840" stroke-width="0.1">CircEryth</text>
<text x="197" y="247.2" font-size="7.9" fill="#d0308a" stroke="#d0308a" stroke-width="0.1">BMRetics</text>
<text x="158.7" y="306.2" font-size="7.8" fill="#c02050" stroke="#c02050" stroke-width="0.1">CircRetics</text>
<text transform="translate(66.1,251.6) rotate(-90)" text-anchor="middle" font-size="8.8" font-weight="bold" textLength="62.5" lengthAdjust="spacingAndGlyphs" fill="#2a2a2a">Component 2 (8.9%)</text>
<text x="160.8" y="334.6" text-anchor="middle" font-size="9" font-weight="bold" textLength="63.5" lengthAdjust="spacingAndGlyphs" fill="#2a2a2a">Component 1 (76.1%)</text>
<text x="46.5" y="196.7" font-size="11" font-weight="bold" fill="#111">D</text>
<line x1="302" y1="199.5" x2="302" y2="299.2" stroke="#222" stroke-width="1.2"/>
<line x1="301.4" y1="299.2" x2="379.4" y2="299.2" stroke="#222" stroke-width="1.2"/>
<line x1="299" y1="299.2" x2="302" y2="299.2" stroke="#222" stroke-width="1"/>
<text x="296" y="302.09999999999997" text-anchor="end" font-size="8.2" fill="#222" stroke="none">0</text>
<line x1="299" y1="274.95" x2="302" y2="274.95" stroke="#222" stroke-width="1"/>
<text x="296" y="277.84999999999997" text-anchor="end" font-size="8.2" fill="#222" stroke="none">20</text>
<line x1="299" y1="250.7" x2="302" y2="250.7" stroke="#222" stroke-width="1"/>
<text x="296" y="253.6" text-anchor="end" font-size="8.2" fill="#222" stroke="none">40</text>
<line x1="299" y1="226.45" x2="302" y2="226.45" stroke="#222" stroke-width="1"/>
<text x="296" y="229.35" text-anchor="end" font-size="8.2" fill="#222" stroke="none">60</text>
<line x1="299" y1="202.2" x2="302" y2="202.2" stroke="#222" stroke-width="1"/>
<text x="296" y="205.1" text-anchor="end" font-size="8.2" fill="#222" stroke="none">80</text>
<rect x="310.3" y="231.90625" width="15" height="32.13125000000002" fill="#2aa6de"/>
<rect x="310.3" y="264.0375" width="15" height="35.162499999999966" fill="#8a7cc4"/>
<line x1="317.8" y1="226.6925" x2="317.8" y2="231.90625" stroke="#333" stroke-width="0.9"/>
<line x1="314.2" y1="226.6925" x2="321.40000000000003" y2="226.6925" stroke="#333" stroke-width="0.9"/>
<line x1="317.8" y1="299.2" x2="317.8" y2="301.7" stroke="#222" stroke-width="1"/>
<rect x="333.4" y="252.76125" width="15" height="11.276250000000033" fill="#2aa6de"/>
<rect x="333.4" y="264.0375" width="15" height="35.162499999999966" fill="#8a7cc4"/>
<line x1="340.9" y1="250.7" x2="340.9" y2="252.76125" stroke="#333" stroke-width="0.9"/>
<line x1="337.29999999999995" y1="250.7" x2="344.5" y2="250.7" stroke="#333" stroke-width="0.9"/>
<line x1="340.9" y1="299.2" x2="340.9" y2="301.7" stroke="#222" stroke-width="1"/>
<rect x="356.6" y="254.57999999999998" width="15" height="9.457500000000039" fill="#2aa6de"/>
<rect x="356.6" y="264.0375" width="15" height="35.162499999999966" fill="#8a7cc4"/>
<line x1="364.1" y1="252.39749999999998" x2="364.1" y2="254.57999999999998" stroke="#333" stroke-width="0.9"/>
<line x1="360.5" y1="252.39749999999998" x2="367.70000000000005" y2="252.39749999999998" stroke="#333" stroke-width="0.9"/>
<line x1="364.1" y1="299.2" x2="364.1" y2="301.7" stroke="#222" stroke-width="1"/>
<text transform="translate(320.2,309.0) rotate(-45)" text-anchor="end" font-size="7.6" fill="#222" stroke="#222" stroke-width="0.1">BM Retics</text>
<text transform="translate(343.29999999999995,309.0) rotate(-45)" text-anchor="end" font-size="7.6" fill="#222" stroke="#222" stroke-width="0.1">Circ Retics</text>
<text transform="translate(366.5,309.0) rotate(-45)" text-anchor="end" font-size="7.6" fill="#222" stroke="#222" stroke-width="0.1">Circ Eryth</text>
<rect x="386.2" y="228.9" width="9" height="5.4" fill="#8a7cc4"/>
<rect x="386.2" y="238.8" width="9" height="5.4" fill="#2aa6de"/>
<text x="398.2" y="234" font-size="7.3" fill="#333" stroke="#333" stroke-width="0.1">Globins</text>
<text x="398.2" y="244.4" font-size="7.1" fill="#333" stroke="#333" stroke-width="0.1">Other Proteins</text>
<text transform="translate(281.8,249.2) rotate(-90)" text-anchor="middle" font-size="8.8" font-weight="bold" textLength="90" lengthAdjust="spacingAndGlyphs" fill="#2a2a2a">Mean protein quantity (pg/cell)</text>
<text x="262.8" y="192.1" font-size="11" font-weight="bold" fill="#111">E</text>
<rect x="0.5" y="0.5" width="519" height="343" fill="none" stroke="#111" stroke-width="1"/>
</svg>
</body></html>
